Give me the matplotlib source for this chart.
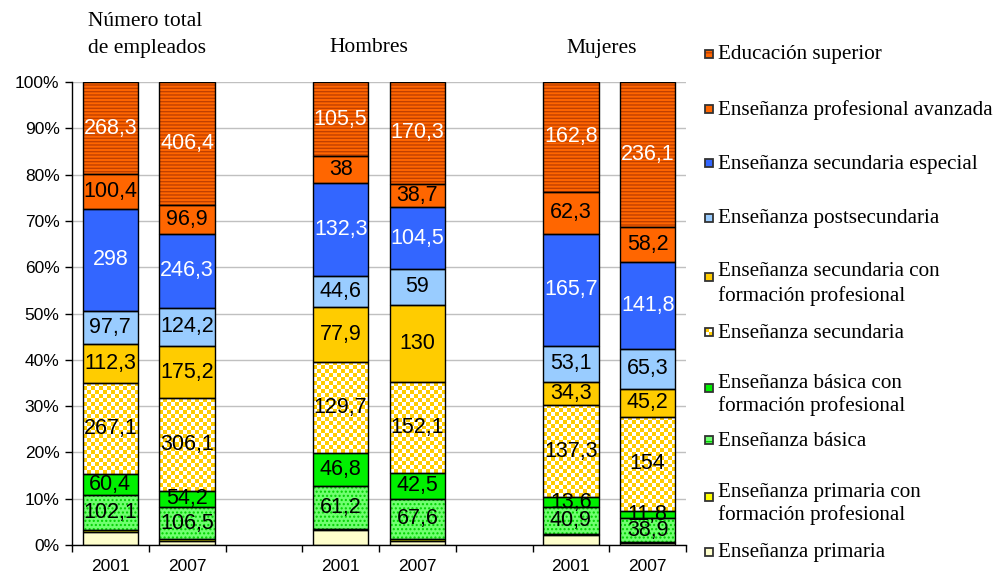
import numpy as np
import matplotlib
matplotlib.use("Agg")
import matplotlib.pyplot as plt
from matplotlib.patches import Rectangle
from matplotlib.colors import ListedColormap

# ---------------- data ----------------
positions = [0, 1, 3, 4, 6, 7]
year_labels = ["2001", "2007", "2001", "2007", "2001", "2007"]
group_titles = ["Número total\nde empleados", "Hombres", "Mujeres"]

series_names = [
    "Enseñanza primaria",
    "Enseñanza primaria con\nformación profesional",
    "Enseñanza básica",
    "Enseñanza básica con\nformación profesional",
    "Enseñanza secundaria",
    "Enseñanza secundaria con\nformación profesional",
    "Enseñanza postsecundaria",
    "Enseñanza secundaria especial",
    "Enseñanza profesional avanzada",
    "Educación superior",
]
primaria = [39, 13, 21, 7, 15, 3]
primaria_fp = [4, 6, 2, 3, 1, 2]
basica = [102.1, 106.5, 61.2, 67.6, 40.9, 38.9]
basica_fp = [60.4, 54.2, 46.8, 42.5, 13.6, 11.8]
secundaria = [267.1, 306.1, 129.7, 152.1, 137.3, 154]
secundaria_fp = [112.3, 175.2, 77.9, 130, 34.3, 45.2]
postsecundaria = [97.7, 124.2, 44.6, 59, 53.1, 65.3]
secundaria_esp = [298, 246.3, 132.3, 104.5, 165.7, 141.8]
prof_avanzada = [100.4, 96.9, 38, 38.7, 62.3, 58.2]
superior = [268.3, 406.4, 105.5, 170.3, 162.8, 236.1]

all_series = [primaria, primaria_fp, basica, basica_fp, secundaria,
              secundaria_fp, postsecundaria, secundaria_esp, prof_avanzada, superior]
show_label = [False, False, True, True, True, True, True, True, True, True]
label_color = ["black", "black", "black", "black", "black", "black",
               "black", "white", "black", "white"]

# styles: (facecolor, hatch, hatchcolor)
styles = [
    ("#FFFFCC", None, None),
    ("#FFFF00", None, None),
    ("#70FF70", "....", "#00D000"),
    ("#00F000", None, None),
    ("#FFFFFF", "checker", None),
    ("#FFCC00", None, None),
    ("#99CCFF", None, None),
    ("#3366FF", None, None),
    ("#FF6600", None, None),
    ("#FF6600", "-----", "#C04000"),
]

W, H = 996, 578
fig = plt.figure(figsize=(W / 100, H / 100), dpi=100)
plt.rcParams["hatch.linewidth"] = 1.0

def fx(x):
    return x / W

def fy(y):
    return 1 - y / H

ax = fig.add_axes([fx(72), fy(545), fx(686) - fx(72), fy(82) - fy(545)])

vals = np.array(all_series, dtype=float)
totals = vals.sum(axis=0)
pct = vals / totals * 100.0
bar_w = 0.72

checker_cmap = ListedColormap(["#FFFFFF", "#FFCC00"])
bottoms = np.zeros(len(positions))
for si, (row, st) in enumerate(zip(pct, styles)):
    face, hatch, hcol = st
    if hatch == "checker":
        bars = ax.bar(positions, row, bar_w, bottom=bottoms, color=face,
                      linewidth=0, zorder=2)
        for b, p, h, b0 in zip(bars, positions, row, bottoms):
            ncols = 14
            nrows = max(1, int(round(h * 4.63 / 4.0)))
            ii, jj = np.indices((nrows, ncols))
            img = ((ii + jj) % 2).astype(float)
            im = ax.imshow(img, cmap=checker_cmap, vmin=0, vmax=1,
                           extent=(p - bar_w / 2, p + bar_w / 2, b0 + h, b0),
                           interpolation="nearest", aspect="auto", zorder=2.5)
            im.set_clip_path(b)
    elif hatch:
        ax.bar(positions, row, bar_w, bottom=bottoms, color=face,
               edgecolor=hcol, hatch=hatch, linewidth=0, zorder=2)
    else:
        ax.bar(positions, row, bar_w, bottom=bottoms, color=face,
               linewidth=0, zorder=2)
    # outlines
    ax.bar(positions, row, bar_w, bottom=bottoms, fill=False,
           edgecolor="black", linewidth=1.0, zorder=3)
    if show_label[si]:
        for p, h, b0, v in zip(positions, row, bottoms, all_series[si]):
            txt = ("%g" % v).replace(".", ",")
            ax.text(p, b0 + h / 2, txt, ha="center", va="center",
                    fontsize=15.5, family="Liberation Sans",
                    color=label_color[si], zorder=4)
    bottoms = bottoms + row

ax.set_xlim(-0.5, 7.5)
ax.set_ylim(0, 100)
ax.set_yticks(np.arange(0, 101, 10))
ax.set_yticklabels(["%d%%" % v for v in range(0, 101, 10)],
                   fontsize=12.5, family="Liberation Sans")
ax.yaxis.grid(True, color="#C0C0C0", linewidth=1.0, zorder=0)
ax.set_axisbelow(True)
ax.set_xticks(np.arange(-0.5, 8.0, 1.0))
ax.set_xticklabels([])
ax.set_xticks(positions, minor=True)
ax.set_xticklabels(year_labels, minor=True, fontsize=12.5,
                   family="Liberation Sans")
ax.tick_params(axis="x", which="minor", length=0, pad=10)
ax.tick_params(axis="x", which="major", length=5, width=1, direction="out")
ax.tick_params(axis="y", length=5, width=1, direction="out", pad=4)
for s in ["top", "right"]:
    ax.spines[s].set_visible(False)
for s in ["left", "bottom"]:
    ax.spines[s].set_color("black")
    ax.spines[s].set_linewidth(1.0)

# group titles
serif = "Liberation Serif"
fig.text(fx(88), fy(22), "Número total", fontsize=15.5, family=serif,
         ha="left", va="center")
fig.text(fx(88), fy(48), "de empleados", fontsize=15.5, family=serif,
         ha="left", va="center")
fig.text(fx(369), fy(48), "Hombres", fontsize=15.5, family=serif,
         ha="center", va="center")
fig.text(fx(602), fy(48), "Mujeres", fontsize=15.5, family=serif,
         ha="center", va="center")

# legend (top to bottom)
legend_lines = [[55], [110], [164], [219], [272, 296], [333], [383, 406],
                [441], [492, 515], [553]]
order = list(range(len(series_names)))[::-1]
for k, si in enumerate(order):
    lines = series_names[si].split("\n")
    ys = legend_lines[k]
    for t, yy in zip(lines, ys):
        fig.text(fx(718), fy(yy), t, fontsize=15.2, family=serif,
                 ha="left", va="center")
    my = ys[0] - 1 if len(ys) == 1 else ys[0] + 5
    face, hatch, hcol = styles[si]
    x0, y0 = fx(705), fy(my + 4)
    mw, mh = fx(8), 8 / H
    if hatch == "checker":
        fig.patches.append(Rectangle((x0, y0), mw, mh, transform=fig.transFigure,
                                     facecolor="white", edgecolor="none"))
        fig.patches.append(Rectangle((x0, y0 + mh / 2), mw / 2, mh / 2,
                                     transform=fig.transFigure,
                                     facecolor="#FFCC00", edgecolor="none"))
        fig.patches.append(Rectangle((x0 + mw / 2, y0), mw / 2, mh / 2,
                                     transform=fig.transFigure,
                                     facecolor="#FFCC00", edgecolor="none"))
    elif hatch:
        fig.patches.append(Rectangle((x0, y0), mw, mh, transform=fig.transFigure,
                                     facecolor=face, edgecolor=hcol, hatch="---",
                                     linewidth=0))
    else:
        fig.patches.append(Rectangle((x0, y0), mw, mh, transform=fig.transFigure,
                                     facecolor=face, edgecolor="none"))
    fig.patches.append(Rectangle((x0, y0), mw, mh, transform=fig.transFigure,
                                 fill=False, edgecolor="#333333", linewidth=1.3))

fig.savefig("out.png", dpi=100)
